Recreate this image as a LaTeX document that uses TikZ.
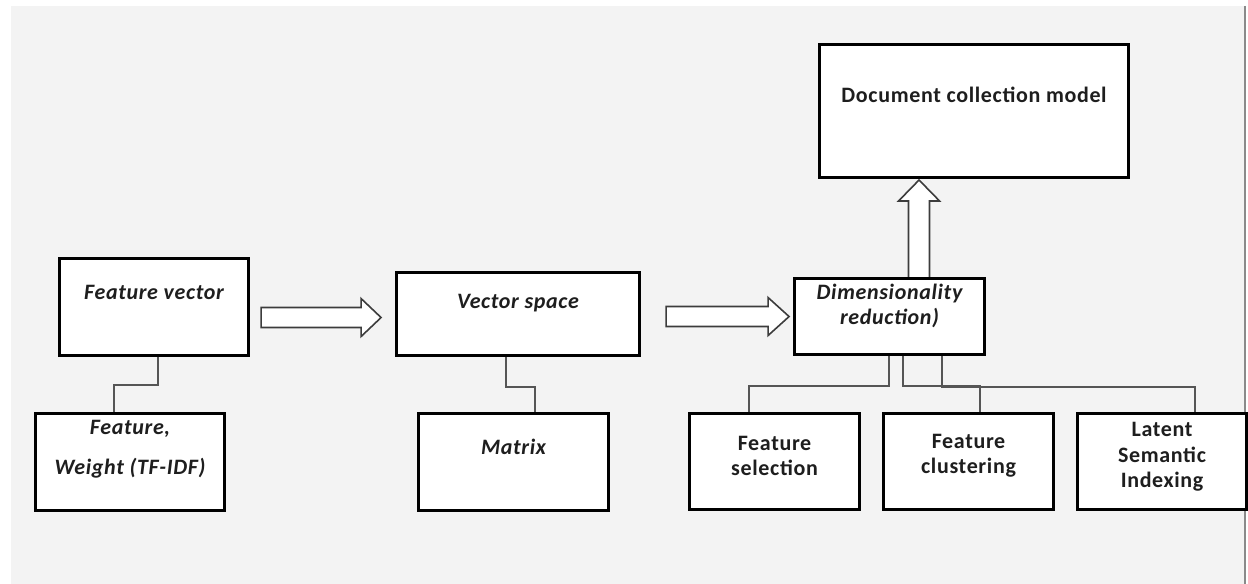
\documentclass[tikz,border=0pt]{standalone}
\usepackage{fontspec}
\setmainfont{Carlito}[LetterSpace=3]
\usetikzlibrary{calc}
\definecolor{bggray}{HTML}{F3F3F3}
\definecolor{conngray}{HTML}{555555}
\definecolor{arrowgray}{HTML}{3C3C3C}
\definecolor{edgegray}{HTML}{8A8A8A}
\definecolor{textcol}{HTML}{1E1E1E}
\tikzset{
  box/.style={draw=black, line width=2.3pt, fill=white, rectangle, inner sep=0pt, anchor=north west},
  txt/.style={font=\fontsize{16.5}{19}\selectfont\bfseries, text=textcol, align=center, inner sep=0pt},
  itxt/.style={txt, font=\fontsize{16.5}{19}\selectfont\bfseries\itshape},
  conn/.style={draw=conngray, line width=1.5pt},
  barrow/.style={draw=arrowgray, line width=1.2pt, fill=white, line join=miter}
}
\begin{document}
\begin{tikzpicture}[x=0.75pt,y=-0.75pt]
\useasboundingbox (0,0) rectangle (1248,584);
\fill[white] (0,0) rectangle (1248,584);
\fill[bggray] (11,6) rectangle (1244,584);
\draw[edgegray, line width=1.5pt] (1244.5,6) -- (1244.5,584);

% boxes
\node (fv) [box, minimum width=189*0.75pt, minimum height=97*0.75pt] at (58,257) {};
\node (fw) [box, minimum width=189*0.75pt, minimum height=97*0.75pt] at (34,412) {};
\node (vs) [box, minimum width=243*0.75pt, minimum height=83*0.75pt] at (395,271) {};
\node (mx) [box, minimum width=190*0.75pt, minimum height=97*0.75pt] at (417,412) {};
\node (dr) [box, minimum width=190*0.75pt, minimum height=76*0.75pt] at (793,277) {};
\node (dc) [box, minimum width=309*0.75pt, minimum height=133*0.75pt] at (818,43) {};
\node (fs) [box, minimum width=170*0.75pt, minimum height=96*0.75pt] at (688,412) {};
\node (fc) [box, minimum width=170*0.75pt, minimum height=96*0.75pt] at (882,412) {};
\node (lsi) [box, minimum width=169*0.75pt, minimum height=96*0.75pt] at (1076,412) {};

% texts
\node (tfv) [itxt] at ($(fv.north)+(0,35)$) {Feature vector};
\node (tfw) [itxt, font=\fontsize{16.5}{30}\selectfont\bfseries\itshape] at ($(fw.north)+(0,37)$) {Feature,\\Weight (TF-IDF)};
\node (tvs) [itxt] at ($(vs.north)+(0,32)$) {Vector space};
\node (tmx) [itxt] at ($(mx.north)+(0,35)$) {Matrix};
\node (tdr) [itxt] at ($(dr.north)+(0,29)$) {Dimensionality\\reduction)};
\node (tdc) [txt] at ($(dc.north)+(0,52)$) {Document collection model};
\node (tfs) [txt] at ($(fs.north)+(0,44)$) {Feature\\selection};
\node (tfc) [txt] at ($(fc.north)+(0,44)$) {Feature\\clustering};
\node (tlsi) [txt] at ($(lsi.north)+(0,45)$) {Latent\\Semantic\\Indexing};

% elbow connectors
\draw[conn] ($(fv.south)+(3.5,0)$) -- ++(0,28) -| ($(fw.north)+(-16.5,0)$);
\draw[conn] ($(vs.south)+(-12.5,0)$) -- ++(0,30) -| ($(mx.north)+(21,0)$);
\draw[conn] ($(dr.south)+(-1,0)$) -- ++(0,30) -| ($(fs.north)+(-26,0)$);
\draw[conn] ($(dr.south)+(13,0)$) -- ++(0,30) -| ($(fc.north)+(11,0)$);
\draw[conn] ($(dr.south)+(52,0)$) -- ++(0,31) -| ($(lsi.north)+(32.5,0)$);

% block arrows
\coordinate (a1) at ($(fv.east)+(11,10.5)$);
\draw[barrow] (a1) ++(0,-10) -- ++(100,0) -- ++(0,-9) -- ++(20,19) -- ++(-20,19) -- ++(0,-9) -- ++(-100,0) -- cycle;
\coordinate (a2) at ($(vs.east)+(25,2.5)$);
\draw[barrow] (a2) ++(0,-10) -- ++(102,0) -- ++(0,-9) -- ++(21,19) -- ++(-21,19) -- ++(0,-9) -- ++(-102,0) -- cycle;
\coordinate (a3) at ($(dr.north)+(29.5,0)$);
\draw[barrow] (a3) ++(-10.5,0) -- ++(0,-76) -- ++(-10,0) -- ++(20.5,-21) -- ++(20.5,21) -- ++(-10,0) -- ++(0,76);
\end{tikzpicture}
\end{document}
